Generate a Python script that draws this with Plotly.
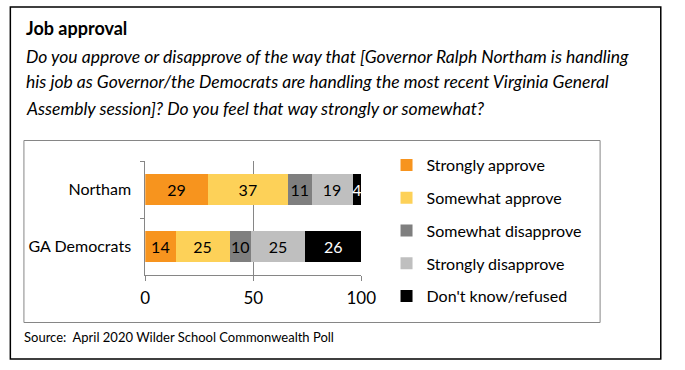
import plotly.graph_objects as go

categories = ["Northam", "GA Democrats"]
series_names = ["Strongly approve", "Somewhat approve", "Somewhat disapprove",
                "Strongly disapprove", "Don't know/refused"]
strongly_approve = [29, 14]
somewhat_approve = [37, 25]
somewhat_disapprove = [11, 10]
strongly_disapprove = [19, 25]
dont_know = [4, 26]
x_ticks = [0, 50, 100]

title = "Job approval"
question_lines = [
    "Do you approve or disapprove of the way that [Governor Ralph Northam is handling",
    "his job as Governor/the Democrats are handling the most recent Virginia General",
    "Assembly session]? Do you feel that way strongly or somewhat?",
]
source = "Source:  April 2020 Wilder School Commonwealth Poll"

series_values = [strongly_approve, somewhat_approve, somewhat_disapprove,
                 strongly_disapprove, dont_know]
colors = ["#F7941E", "#FDD158", "#7F7F7F", "#BFBFBF", "#000000"]
text_colors = ["#000000", "#000000", "#000000", "#000000", "#FFFFFF"]

W, H = 685, 370
FONT = "Lato"

fig = go.Figure()
for name, vals, col, tcol in zip(series_names, series_values, colors, text_colors):
    fig.add_trace(go.Bar(
        y=categories, x=vals, name=name, orientation="h",
        marker=dict(color=col, line=dict(width=0)),
        text=[str(v) for v in vals], textposition="inside",
        insidetextanchor="middle",
        textfont=dict(family=FONT, size=16, color=tcol),
        legendgroup=name, hoverinfo="skip",
    ))

def px_x(p):
    return p / W

def px_y(p):
    return 1 - p / H

grid_col = "#868686"
fig.update_layout(
    width=W, height=H, autosize=False,
    margin=dict(l=0, r=0, t=0, b=0),
    paper_bgcolor="white", plot_bgcolor="white",
    barmode="stack", bargap=0.45,
    font=dict(family=FONT, size=16, color="#000000"),
    uniformtext=dict(minsize=16, mode="show"),
    xaxis=dict(
        domain=[px_x(144.5), px_x(367)], range=[0, 100],
        tickvals=x_ticks, ticktext=[str(t) for t in x_ticks],
        showgrid=True, gridcolor=grid_col, gridwidth=1,
        showline=True, linecolor=grid_col, linewidth=1,
        ticks="outside", ticklen=5, tickcolor=grid_col,
        tickfont=dict(family=FONT, size=17, color="#000000"),
        ticklabelstandoff=3,
        zeroline=False, fixedrange=True,
    ),
    yaxis=dict(
        domain=[px_y(275), px_y(161)],
        autorange="reversed",
        showline=True, linecolor=grid_col, linewidth=1,
        ticks="outside", ticklen=4, tickcolor=grid_col, tickson="boundaries",
        tickfont=dict(family=FONT, size=16, color="#000000"),
        ticklabelstandoff=10,
        showgrid=False, zeroline=False, fixedrange=True,
    ),
    legend=dict(
        x=px_x(393), xanchor="left", y=px_y(148), yanchor="top",
        orientation="v", traceorder="grouped", tracegroupgap=9,
        font=dict(family=FONT, size=16, color="#000000"),
        bgcolor="rgba(0,0,0,0)", itemclick=False, itemdoubleclick=False,
    ),
    showlegend=True,
)

# frames
fig.add_shape(type="rect", xref="paper", yref="paper",
              x0=px_x(5.5), x1=px_x(675.5), y0=px_y(359), y1=px_y(7),
              line=dict(color="#000000", width=1.5), fillcolor="rgba(0,0,0,0)", layer="below")
fig.add_shape(type="rect", xref="paper", yref="paper",
              x0=px_x(19.5), x1=px_x(613), y0=px_y(322.5), y1=px_y(140.5),
              line=dict(color=grid_col, width=1), fillcolor="rgba(0,0,0,0)", layer="below")

# texts
fig.add_annotation(x=px_x(20), y=px_y(28), xref="paper", yref="paper",
                   xanchor="left", yanchor="middle", showarrow=False,
                   text="<b>" + title + "</b>",
                   font=dict(family=FONT, size=18, color="#000000"))
for i, line in enumerate(question_lines):
    fig.add_annotation(x=px_x(20), y=px_y(56 + 26 * i), xref="paper", yref="paper",
                       xanchor="left", yanchor="middle", showarrow=False,
                       text="<i>" + line + "</i>",
                       font=dict(family=FONT, size=17.5, color="#000000"))
fig.add_annotation(x=px_x(18), y=px_y(337), xref="paper", yref="paper",
                   xanchor="left", yanchor="middle", showarrow=False,
                   text=source, font=dict(family=FONT, size=13, color="#000000"))

fig.write_html("out.html", config={"displayModeBar": False},
               post_script="document.body.style.margin='0';document.body.style.overflow='hidden';")
